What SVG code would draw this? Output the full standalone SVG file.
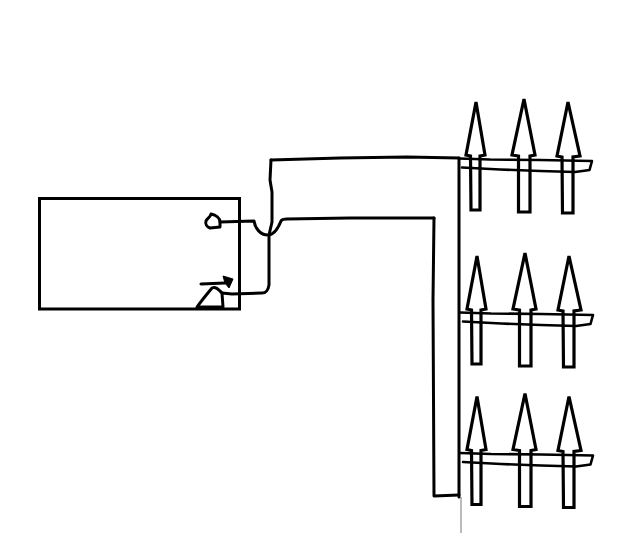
<svg xmlns="http://www.w3.org/2000/svg" width="643" height="550" viewBox="0 0 643 550">
<style>
.l{fill:none;stroke:#000;stroke-width:3;stroke-linejoin:round;stroke-linecap:round}
.t{fill:none;stroke:#000;stroke-width:2.6;stroke-linejoin:round;stroke-linecap:round}
.a{fill:none;stroke:#000;stroke-width:3.200;stroke-linejoin:miter}
</style>
<defs>
<g id="tier">
<path class="t" d="M459 158.500L490 159.500L540 160L592 161L589.500 170L586 170.500L575 172L540 171L500 169.500L462 167.500"/>
<path class="a" d="M476 102L485 155L480 156L480 210L471 210L470.500 156L466 155Z"/>
<path class="a" d="M524 99L535 155L530 156L530 212L518.500 212L518.500 156L512 155Z"/>
<path class="a" d="M568 102L580 156L573 157L573 213L562.500 213L562 157L557 156Z"/>
</g>
</defs>
<rect width="643" height="550" fill="#fff"/>
<g id="boiler"><rect x="39.500" y="198.500" width="200" height="110.500" fill="none" stroke="#000" stroke-width="3"/></g>
<g id="small-valve"><path class="l" d="M211 214C216 215 220 218 220 222L220 227L210 228C207 227 205 224 206 221C207 218 210 218 211 214Z"/></g>
<g id="burner">
<path class="l" d="M197 307C202 300 207 294 212 288C216 286 219 290 222 293L223 307"/>
<path d="M197 305.500H223V309H197Z"/>
<path class="l" d="M201 284L225 283"/>
<path d="M223 276L233 279L229 288L225 283Z" stroke="#000"/>
</g>
<g id="connectors">
<path class="l" d="M220 222L254 221C255 228 260 235 268 235C275 235 279 226 281 221C282 219 284 219 287 219L350 218L434 218"/>
<path class="l" d="M271 160L270 180L272 192L272 222L269 235L269 285C268 291 266 293 262 293L232 294L222 293"/>
<path class="l" d="M271 160L340 158L407 157L459 158"/>
<path class="l" d="M434 218L433 300L434 496L459 495"/>
<path class="l" d="M459 158L459 497"/>
<path d="M461 497V533" stroke="#777" stroke-width="1" fill="none"/>
</g>
<g id="tier-1"><use href="#tier"/></g>
<g id="tier-2"><use href="#tier" transform="translate(1 154)"/></g>
<g id="tier-3"><use href="#tier" transform="translate(1 294.500)"/></g>
</svg>
